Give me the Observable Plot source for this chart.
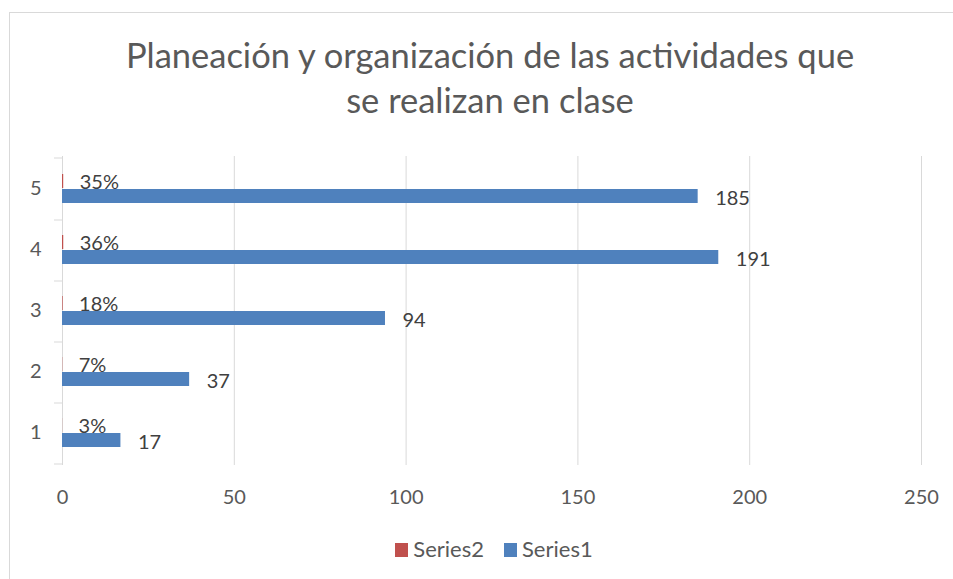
<!DOCTYPE html>
<html><head><meta charset="utf-8">
<script src="https://cdn.jsdelivr.net/npm/d3@7"></script>
<script src="https://cdn.jsdelivr.net/npm/@observablehq/plot@0.6"></script>
<style>
html,body{margin:0;padding:0;background:#fff;overflow:hidden}
#wrap{position:relative;width:953px;height:579px;font-family:Lato,sans-serif;overflow:hidden;background:#fff}
#border{position:absolute;left:9px;top:12px;width:1100px;height:800px;border:1px solid #d9d9d9;box-sizing:border-box}
#title{position:absolute;left:9px;width:962px;top:32px;text-align:center;font-size:34.5px;line-height:45px;color:#595959;white-space:nowrap}
#chart{position:absolute;left:0;top:0}
#legend{position:absolute;left:0;width:988px;top:538px;text-align:center;font-size:22px;line-height:22px;color:#595959;white-space:nowrap}
#legend .sw{display:inline-block;width:13px;height:14px;margin-right:5px}
#legend .item{display:inline-block;margin:0 10px}
</style>
</head><body>
<div id="wrap">
  <div id="border"></div>
  <div id="title"></div>
  <div id="chart"></div>
  <div id="legend"></div>
</div>
<script>
const titleLines = ["Planeación y organización de las actividades que", "se realizan en clase"];
const categories = ["1", "2", "3", "4", "5"];
const series1 = [17, 37, 94, 191, 185];
const series2 = [0.03, 0.07, 0.18, 0.36, 0.35];
const xTicks = [0, 50, 100, 150, 200, 250];
const seriesNames = ["Series2", "Series1"];
const seriesColors = ["#c0504d", "#4f81bd"];

document.getElementById("title").innerHTML = titleLines.join("<br>");
document.getElementById("legend").innerHTML = seriesNames.map((n, i) =>
  `<span class="item"><span class="sw" style="background:${seriesColors[i]}"></span>${n}</span>`).join("");

const rows = categories.map((c, i) => ({cat: c, s1: series1[i], s2: series2[i]}));
const axisStart = xTicks[0];

const chart = Plot.plot({
  width: 953,
  height: 579,
  marginTop: 156,
  marginRight: 32,
  marginBottom: 114,
  marginLeft: 62,
  style: {fontFamily: "Lato, sans-serif", fontSize: "20px", color: "#595959", background: "transparent"},
  x: {domain: [0, 250], axis: null, label: null},
  y: {domain: categories, reverse: true, type: "band", padding: 0, axis: null, label: null},
  marks: [
    Plot.gridX(xTicks, {stroke: "#d9d9d9", strokeOpacity: 1}),
    Plot.axisX(xTicks, {tickSize: 0, tickPadding: 24, fill: "#595959", label: null}),
    Plot.axisY(categories, {tickSize: 0, tickPadding: 21, fill: "#595959", label: null}),
    Plot.ruleY(categories, {y: d => d, x1: () => axisStart, x2: () => axisStart, insetLeft: -8, dy: 31, stroke: "#d9d9d9", strokeOpacity: 1}),
    Plot.ruleY([categories[categories.length - 1]], {y: d => d, x1: () => axisStart, x2: () => axisStart, insetLeft: -8, dy: -31, stroke: "#d9d9d9", strokeOpacity: 1}),
    Plot.barX(rows, {x: "s2", y: "cat", fill: seriesColors[0], insetTop: 16, insetBottom: 31}),
    Plot.barX(rows, {x: "s1", y: "cat", fill: seriesColors[1], insetTop: 31, insetBottom: 16}),
    Plot.text(rows, {x: "s2", y: "cat", text: d => Math.round(d.s2 * 100) + "%", dx: 16, dy: -6, textAnchor: "start", fill: "#404040"}),
    Plot.text(rows, {x: "s1", y: "cat", text: d => String(d.s1), dx: 17, dy: 10, textAnchor: "start", fill: "#404040"})
  ]
});
document.getElementById("chart").appendChild(chart);
</script>
</body></html>
